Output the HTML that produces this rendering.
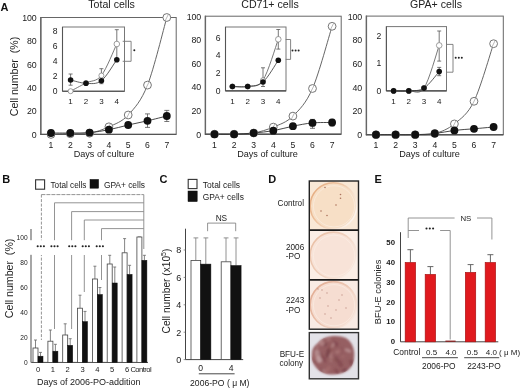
<!DOCTYPE html>
<html><head><meta charset="utf-8"><style>
html,body{margin:0;padding:0;background:#fff;}
body{width:520px;height:388px;overflow:hidden;position:relative;font-family:"Liberation Sans", sans-serif;}
svg{position:absolute;left:0;top:0;filter:blur(0.35px);}
text{font-family:"Liberation Sans", sans-serif;}
</style></head><body>
<svg width="520" height="388" viewBox="0 0 520 388">
<rect width="520" height="388" fill="#fff"/>
<text x="0.5" y="10.8" font-size="11" text-anchor="start" font-weight="bold" fill="#111" >A</text>
<text x="111.6" y="8.2" font-size="10.6" text-anchor="middle" font-weight="normal" fill="#222" >Total cells</text>
<rect x="40.8" y="17.5" width="135.4" height="116.9" fill="none" stroke="#666" stroke-width="1" />
<line x1="40.8" y1="17.0" x2="40.8" y2="134.9" stroke="#666" stroke-width="1.4" />
<line x1="40.3" y1="134.4" x2="176.2" y2="134.4" stroke="#555" stroke-width="1.4" />
<text x="36.5" y="137.8" font-size="8.8" text-anchor="end" font-weight="normal" fill="#1a1a1a" letter-spacing="-0.15">0</text>
<text x="36.5" y="114.4" font-size="8.8" text-anchor="end" font-weight="normal" fill="#1a1a1a" letter-spacing="-0.15">20</text>
<text x="36.5" y="91.0" font-size="8.8" text-anchor="end" font-weight="normal" fill="#1a1a1a" letter-spacing="-0.15">40</text>
<text x="36.5" y="67.7" font-size="8.8" text-anchor="end" font-weight="normal" fill="#1a1a1a" letter-spacing="-0.15">60</text>
<text x="36.5" y="44.3" font-size="8.8" text-anchor="end" font-weight="normal" fill="#1a1a1a" letter-spacing="-0.15">80</text>
<text x="36.5" y="20.9" font-size="8.8" text-anchor="end" font-weight="normal" fill="#1a1a1a" letter-spacing="-0.15">100</text>
<text x="51.0" y="148.2" font-size="8.6" text-anchor="middle" font-weight="normal" fill="#1a1a1a" >1</text>
<text x="70.3" y="148.2" font-size="8.6" text-anchor="middle" font-weight="normal" fill="#1a1a1a" >2</text>
<text x="89.6" y="148.2" font-size="8.6" text-anchor="middle" font-weight="normal" fill="#1a1a1a" >3</text>
<text x="108.9" y="148.2" font-size="8.6" text-anchor="middle" font-weight="normal" fill="#1a1a1a" >4</text>
<text x="128.2" y="148.2" font-size="8.6" text-anchor="middle" font-weight="normal" fill="#1a1a1a" >5</text>
<text x="147.5" y="148.2" font-size="8.6" text-anchor="middle" font-weight="normal" fill="#1a1a1a" >6</text>
<text x="166.8" y="148.2" font-size="8.6" text-anchor="middle" font-weight="normal" fill="#1a1a1a" >7</text>
<text x="104.0" y="156.5" font-size="9.1" text-anchor="middle" font-weight="normal" fill="#1a1a1a" >Days of culture</text>
<text transform="translate(17.7,76.5) rotate(-90)" font-size="10.6" text-anchor="middle" fill="#222">Cell number&#160;&#160;(%)</text>
<path d="M51.0,134.4 C54.2,134.3 63.9,134.0 70.3,133.8 C76.7,133.6 83.2,134.4 89.6,133.2 C96.0,132.1 102.5,129.8 108.9,126.8 C115.3,123.8 121.8,122.0 128.2,115.0 C134.6,108.0 141.1,101.3 147.5,85.1 C153.9,68.8 163.6,28.8 166.8,17.5" fill="none" stroke="#555" stroke-width="0.9"/>
<path d="M51.0,133.0 C54.2,133.0 63.9,133.1 70.3,133.0 C76.7,132.9 83.2,133.2 89.6,132.6 C96.0,132.1 102.5,131.0 108.9,129.7 C115.3,128.5 121.8,126.5 128.2,125.0 C134.6,123.6 141.1,122.3 147.5,120.8 C153.9,119.3 163.6,116.8 166.8,116.0" fill="none" stroke="#333" stroke-width="0.9"/>
<line x1="147.5" y1="113.9" x2="147.5" y2="127.4" stroke="#555" stroke-width="0.8" />
<line x1="145.0" y1="113.9" x2="150.0" y2="113.9" stroke="#555" stroke-width="0.8" />
<line x1="145.0" y1="127.4" x2="150.0" y2="127.4" stroke="#555" stroke-width="0.8" />
<line x1="166.8" y1="110.4" x2="166.8" y2="121.5" stroke="#555" stroke-width="0.8" />
<line x1="164.3" y1="110.4" x2="169.3" y2="110.4" stroke="#555" stroke-width="0.8" />
<line x1="164.3" y1="121.5" x2="169.3" y2="121.5" stroke="#555" stroke-width="0.8" />
<circle cx="51.0" cy="134.4" r="3.9" fill="#fff" stroke="#666" stroke-width="0.9"/>
<line x1="52.5" y1="131.4" x2="49.5" y2="137.4" stroke="#888" stroke-width="0.6" />
<circle cx="70.3" cy="133.8" r="3.9" fill="#fff" stroke="#666" stroke-width="0.9"/>
<line x1="71.8" y1="130.8" x2="68.8" y2="136.8" stroke="#888" stroke-width="0.6" />
<circle cx="89.6" cy="133.2" r="3.9" fill="#fff" stroke="#666" stroke-width="0.9"/>
<line x1="91.1" y1="130.2" x2="88.1" y2="136.2" stroke="#888" stroke-width="0.6" />
<circle cx="108.9" cy="126.8" r="3.9" fill="#fff" stroke="#666" stroke-width="0.9"/>
<line x1="110.4" y1="123.8" x2="107.4" y2="129.8" stroke="#888" stroke-width="0.6" />
<circle cx="128.2" cy="115.0" r="3.9" fill="#fff" stroke="#666" stroke-width="0.9"/>
<line x1="129.7" y1="112.0" x2="126.7" y2="118.0" stroke="#888" stroke-width="0.6" />
<circle cx="147.5" cy="85.1" r="3.9" fill="#fff" stroke="#666" stroke-width="0.9"/>
<line x1="149.0" y1="82.1" x2="146.0" y2="88.1" stroke="#888" stroke-width="0.6" />
<circle cx="166.8" cy="17.5" r="3.9" fill="#fff" stroke="#666" stroke-width="0.9"/>
<line x1="168.3" y1="14.5" x2="165.3" y2="20.5" stroke="#888" stroke-width="0.6" />
<circle cx="51.0" cy="133.0" r="3.9" fill="#111" stroke="none" stroke-width="1"/>
<circle cx="70.3" cy="133.0" r="3.9" fill="#111" stroke="none" stroke-width="1"/>
<circle cx="89.6" cy="132.6" r="3.9" fill="#111" stroke="none" stroke-width="1"/>
<circle cx="108.9" cy="129.7" r="3.9" fill="#111" stroke="none" stroke-width="1"/>
<circle cx="128.2" cy="125.0" r="3.9" fill="#111" stroke="none" stroke-width="1"/>
<circle cx="147.5" cy="120.8" r="3.9" fill="#111" stroke="none" stroke-width="1"/>
<circle cx="166.8" cy="116.0" r="3.9" fill="#111" stroke="none" stroke-width="1"/>
<rect x="62.5" y="27.0" width="62.0" height="64.2" fill="#fff" stroke="#777" stroke-width="1" />
<line x1="62.5" y1="27.0" x2="62.5" y2="91.2" stroke="#555" stroke-width="1.1" />
<line x1="62.5" y1="91.2" x2="124.5" y2="91.2" stroke="#444" stroke-width="1.1" />
<text x="57.5" y="94.2" font-size="8.6" text-anchor="end" font-weight="normal" fill="#1a1a1a" >0</text>
<text x="57.5" y="79.2" font-size="8.6" text-anchor="end" font-weight="normal" fill="#1a1a1a" >2</text>
<text x="57.5" y="64.2" font-size="8.6" text-anchor="end" font-weight="normal" fill="#1a1a1a" >4</text>
<text x="57.5" y="49.2" font-size="8.6" text-anchor="end" font-weight="normal" fill="#1a1a1a" >6</text>
<text x="57.5" y="34.2" font-size="8.6" text-anchor="end" font-weight="normal" fill="#1a1a1a" >8</text>
<text x="70.6" y="103.8" font-size="8.0" text-anchor="middle" font-weight="normal" fill="#1a1a1a" >1</text>
<text x="86.0" y="103.8" font-size="8.0" text-anchor="middle" font-weight="normal" fill="#1a1a1a" >2</text>
<text x="101.4" y="103.8" font-size="8.0" text-anchor="middle" font-weight="normal" fill="#1a1a1a" >3</text>
<text x="116.8" y="103.8" font-size="8.0" text-anchor="middle" font-weight="normal" fill="#1a1a1a" >4</text>
<path d="M70.6,91.2 C73.2,89.8 80.9,85.6 86.0,83.0 C91.1,80.3 96.3,82.0 101.4,75.5 C106.5,69.0 114.2,49.2 116.8,44.0" fill="none" stroke="#555" stroke-width="0.8"/>
<path d="M70.6,80.0 C73.2,80.5 80.9,83.2 86.0,83.3 C91.1,83.5 96.3,84.6 101.4,80.7 C106.5,76.8 114.2,63.2 116.8,59.7" fill="none" stroke="#333" stroke-width="0.8"/>
<line x1="70.6" y1="74.0" x2="70.6" y2="85.2" stroke="#555" stroke-width="0.8" />
<line x1="68.6" y1="74.0" x2="72.6" y2="74.0" stroke="#555" stroke-width="0.8" />
<line x1="68.6" y1="85.2" x2="72.6" y2="85.2" stroke="#555" stroke-width="0.8" />
<line x1="101.4" y1="68.7" x2="101.4" y2="83.7" stroke="#555" stroke-width="0.8" />
<line x1="99.4" y1="68.7" x2="103.4" y2="68.7" stroke="#555" stroke-width="0.8" />
<line x1="99.4" y1="83.7" x2="103.4" y2="83.7" stroke="#555" stroke-width="0.8" />
<line x1="116.8" y1="29.7" x2="116.8" y2="59.7" stroke="#555" stroke-width="0.8" />
<line x1="114.8" y1="29.7" x2="118.8" y2="29.7" stroke="#555" stroke-width="0.8" />
<line x1="114.8" y1="59.7" x2="118.8" y2="59.7" stroke="#555" stroke-width="0.8" />
<circle cx="70.6" cy="91.2" r="2.5" fill="#fff" stroke="#777" stroke-width="0.7"/>
<circle cx="86.0" cy="83.0" r="2.5" fill="#fff" stroke="#777" stroke-width="0.7"/>
<circle cx="101.4" cy="75.5" r="2.5" fill="#fff" stroke="#777" stroke-width="0.7"/>
<circle cx="116.8" cy="44.0" r="2.8" fill="#fff" stroke="#777" stroke-width="0.7"/>
<circle cx="70.6" cy="80.0" r="2.8" fill="#111" stroke="none" stroke-width="1"/>
<circle cx="86.0" cy="83.3" r="2.8" fill="#111" stroke="none" stroke-width="1"/>
<circle cx="101.4" cy="80.7" r="2.8" fill="#111" stroke="none" stroke-width="1"/>
<circle cx="116.8" cy="59.7" r="2.8" fill="#111" stroke="none" stroke-width="1"/>
<polyline points="122.7,41.3 131.1,41.3 131.1,61.3 122.7,61.3" fill="none" stroke="#777" stroke-width="0.9"/>
<circle cx="134.3" cy="50.2" r="1.0" fill="#222" stroke="none" stroke-width="1"/>
<text x="270.0" y="8.2" font-size="10.6" text-anchor="middle" font-weight="normal" fill="#222" >CD71+ cells</text>
<rect x="205.4" y="16.2" width="135.8" height="118.0" fill="none" stroke="#666" stroke-width="1" />
<line x1="205.4" y1="15.7" x2="205.4" y2="134.7" stroke="#666" stroke-width="1.4" />
<line x1="204.9" y1="134.2" x2="341.2" y2="134.2" stroke="#555" stroke-width="1.4" />
<text x="201.1" y="137.6" font-size="8.8" text-anchor="end" font-weight="normal" fill="#1a1a1a" letter-spacing="-0.15">0</text>
<text x="201.1" y="114.0" font-size="8.8" text-anchor="end" font-weight="normal" fill="#1a1a1a" letter-spacing="-0.15">20</text>
<text x="201.1" y="90.4" font-size="8.8" text-anchor="end" font-weight="normal" fill="#1a1a1a" letter-spacing="-0.15">40</text>
<text x="201.1" y="66.8" font-size="8.8" text-anchor="end" font-weight="normal" fill="#1a1a1a" letter-spacing="-0.15">60</text>
<text x="201.1" y="43.2" font-size="8.8" text-anchor="end" font-weight="normal" fill="#1a1a1a" letter-spacing="-0.15">80</text>
<text x="201.1" y="19.6" font-size="8.8" text-anchor="end" font-weight="normal" fill="#1a1a1a" letter-spacing="-0.15">100</text>
<text x="214.5" y="148.2" font-size="8.6" text-anchor="middle" font-weight="normal" fill="#1a1a1a" >1</text>
<text x="234.1" y="148.2" font-size="8.6" text-anchor="middle" font-weight="normal" fill="#1a1a1a" >2</text>
<text x="253.7" y="148.2" font-size="8.6" text-anchor="middle" font-weight="normal" fill="#1a1a1a" >3</text>
<text x="273.3" y="148.2" font-size="8.6" text-anchor="middle" font-weight="normal" fill="#1a1a1a" >4</text>
<text x="292.9" y="148.2" font-size="8.6" text-anchor="middle" font-weight="normal" fill="#1a1a1a" >5</text>
<text x="312.5" y="148.2" font-size="8.6" text-anchor="middle" font-weight="normal" fill="#1a1a1a" >6</text>
<text x="332.1" y="148.2" font-size="8.6" text-anchor="middle" font-weight="normal" fill="#1a1a1a" >7</text>
<text x="267.5" y="156.5" font-size="9.1" text-anchor="middle" font-weight="normal" fill="#1a1a1a" >Days of culture</text>
<path d="M214.5,134.2 C217.8,134.2 227.6,134.4 234.1,134.2 C240.6,134.0 247.2,134.2 253.7,133.0 C260.2,131.8 266.8,129.9 273.3,127.1 C279.8,124.3 286.4,122.6 292.9,116.1 C299.4,109.7 306.0,103.5 312.5,88.5 C319.0,73.6 328.8,36.7 332.1,26.3" fill="none" stroke="#555" stroke-width="0.9"/>
<path d="M214.5,134.2 C217.8,134.2 227.6,134.4 234.1,134.2 C240.6,134.0 247.2,133.6 253.7,133.0 C260.2,132.4 266.8,131.8 273.3,130.7 C279.8,129.5 286.4,127.5 292.9,126.2 C299.4,124.9 306.0,123.5 312.5,122.9 C319.0,122.3 328.8,122.6 332.1,122.5" fill="none" stroke="#333" stroke-width="0.9"/>
<line x1="312.5" y1="119.4" x2="312.5" y2="128.3" stroke="#555" stroke-width="0.8" />
<line x1="310.0" y1="119.4" x2="315.0" y2="119.4" stroke="#555" stroke-width="0.8" />
<line x1="310.0" y1="128.3" x2="315.0" y2="128.3" stroke="#555" stroke-width="0.8" />
<line x1="332.1" y1="119.4" x2="332.1" y2="125.9" stroke="#555" stroke-width="0.8" />
<line x1="329.6" y1="119.4" x2="334.6" y2="119.4" stroke="#555" stroke-width="0.8" />
<line x1="329.6" y1="125.9" x2="334.6" y2="125.9" stroke="#555" stroke-width="0.8" />
<circle cx="214.5" cy="134.2" r="3.9" fill="#fff" stroke="#666" stroke-width="0.9"/>
<line x1="216.0" y1="131.2" x2="213.0" y2="137.2" stroke="#888" stroke-width="0.6" />
<circle cx="234.1" cy="134.2" r="3.9" fill="#fff" stroke="#666" stroke-width="0.9"/>
<line x1="235.6" y1="131.2" x2="232.6" y2="137.2" stroke="#888" stroke-width="0.6" />
<circle cx="253.7" cy="133.0" r="3.9" fill="#fff" stroke="#666" stroke-width="0.9"/>
<line x1="255.2" y1="130.0" x2="252.2" y2="136.0" stroke="#888" stroke-width="0.6" />
<circle cx="273.3" cy="127.1" r="3.9" fill="#fff" stroke="#666" stroke-width="0.9"/>
<line x1="274.8" y1="124.1" x2="271.8" y2="130.1" stroke="#888" stroke-width="0.6" />
<circle cx="292.9" cy="116.1" r="3.9" fill="#fff" stroke="#666" stroke-width="0.9"/>
<line x1="294.4" y1="113.1" x2="291.4" y2="119.1" stroke="#888" stroke-width="0.6" />
<circle cx="312.5" cy="88.5" r="3.9" fill="#fff" stroke="#666" stroke-width="0.9"/>
<line x1="314.0" y1="85.5" x2="311.0" y2="91.5" stroke="#888" stroke-width="0.6" />
<circle cx="332.1" cy="26.3" r="3.9" fill="#fff" stroke="#666" stroke-width="0.9"/>
<line x1="333.6" y1="23.3" x2="330.6" y2="29.3" stroke="#888" stroke-width="0.6" />
<circle cx="214.5" cy="134.2" r="3.9" fill="#111" stroke="none" stroke-width="1"/>
<circle cx="234.1" cy="134.2" r="3.9" fill="#111" stroke="none" stroke-width="1"/>
<circle cx="253.7" cy="133.0" r="3.9" fill="#111" stroke="none" stroke-width="1"/>
<circle cx="273.3" cy="130.7" r="3.9" fill="#111" stroke="none" stroke-width="1"/>
<circle cx="292.9" cy="126.2" r="3.9" fill="#111" stroke="none" stroke-width="1"/>
<circle cx="312.5" cy="122.9" r="3.9" fill="#111" stroke="none" stroke-width="1"/>
<circle cx="332.1" cy="122.5" r="3.9" fill="#111" stroke="none" stroke-width="1"/>
<rect x="225.5" y="27.0" width="60.5" height="63.9" fill="#fff" stroke="#777" stroke-width="1" />
<line x1="225.5" y1="27.0" x2="225.5" y2="90.9" stroke="#555" stroke-width="1.1" />
<line x1="225.5" y1="90.9" x2="286.0" y2="90.9" stroke="#444" stroke-width="1.1" />
<text x="220.5" y="93.9" font-size="8.6" text-anchor="end" font-weight="normal" fill="#1a1a1a" >0</text>
<text x="220.5" y="76.1" font-size="8.6" text-anchor="end" font-weight="normal" fill="#1a1a1a" >2</text>
<text x="220.5" y="58.3" font-size="8.6" text-anchor="end" font-weight="normal" fill="#1a1a1a" >4</text>
<text x="220.5" y="40.5" font-size="8.6" text-anchor="end" font-weight="normal" fill="#1a1a1a" >6</text>
<text x="232.4" y="103.8" font-size="8.0" text-anchor="middle" font-weight="normal" fill="#1a1a1a" >1</text>
<text x="247.7" y="103.8" font-size="8.0" text-anchor="middle" font-weight="normal" fill="#1a1a1a" >2</text>
<text x="263.0" y="103.8" font-size="8.0" text-anchor="middle" font-weight="normal" fill="#1a1a1a" >3</text>
<text x="278.3" y="103.8" font-size="8.0" text-anchor="middle" font-weight="normal" fill="#1a1a1a" >4</text>
<path d="M232.4,86.5 C235.0,86.5 242.6,87.5 247.7,86.5 C252.8,85.4 257.9,88.1 263.0,80.2 C268.1,72.4 275.8,46.1 278.3,39.3" fill="none" stroke="#555" stroke-width="0.8"/>
<path d="M232.4,86.5 C235.0,86.5 242.6,87.2 247.7,86.5 C252.8,85.7 257.9,86.4 263.0,82.0 C268.1,77.6 275.8,63.8 278.3,60.2" fill="none" stroke="#333" stroke-width="0.8"/>
<line x1="263.0" y1="67.8" x2="263.0" y2="86.5" stroke="#555" stroke-width="0.8" />
<line x1="261.0" y1="67.8" x2="265.0" y2="67.8" stroke="#555" stroke-width="0.8" />
<line x1="261.0" y1="86.5" x2="265.0" y2="86.5" stroke="#555" stroke-width="0.8" />
<line x1="278.3" y1="29.5" x2="278.3" y2="49.1" stroke="#555" stroke-width="0.8" />
<line x1="276.3" y1="29.5" x2="280.3" y2="29.5" stroke="#555" stroke-width="0.8" />
<line x1="276.3" y1="49.1" x2="280.3" y2="49.1" stroke="#555" stroke-width="0.8" />
<circle cx="232.4" cy="86.5" r="2.5" fill="#fff" stroke="#777" stroke-width="0.7"/>
<circle cx="247.7" cy="86.5" r="2.5" fill="#fff" stroke="#777" stroke-width="0.7"/>
<circle cx="263.0" cy="80.2" r="2.5" fill="#fff" stroke="#777" stroke-width="0.7"/>
<circle cx="278.3" cy="39.3" r="2.8" fill="#fff" stroke="#777" stroke-width="0.7"/>
<circle cx="232.4" cy="86.5" r="2.8" fill="#111" stroke="none" stroke-width="1"/>
<circle cx="247.7" cy="86.5" r="2.8" fill="#111" stroke="none" stroke-width="1"/>
<circle cx="263.0" cy="82.0" r="2.8" fill="#111" stroke="none" stroke-width="1"/>
<circle cx="278.3" cy="60.2" r="2.8" fill="#111" stroke="none" stroke-width="1"/>
<polyline points="285.7,39.5 290.6,39.5 290.6,59.4 285.7,59.4" fill="none" stroke="#777" stroke-width="0.9"/>
<circle cx="292.5" cy="50.6" r="1.0" fill="#222" stroke="none" stroke-width="1"/>
<circle cx="295.6" cy="50.6" r="1.0" fill="#222" stroke="none" stroke-width="1"/>
<circle cx="298.6" cy="50.6" r="1.0" fill="#222" stroke="none" stroke-width="1"/>
<text x="436.0" y="8.2" font-size="10.6" text-anchor="middle" font-weight="normal" fill="#222" >GPA+ cells</text>
<rect x="366.4" y="16.1" width="136.9" height="118.6" fill="none" stroke="#666" stroke-width="1" />
<line x1="366.4" y1="15.6" x2="366.4" y2="135.2" stroke="#666" stroke-width="1.4" />
<line x1="365.9" y1="134.7" x2="503.3" y2="134.7" stroke="#555" stroke-width="1.4" />
<text x="362.1" y="138.1" font-size="8.8" text-anchor="end" font-weight="normal" fill="#1a1a1a" letter-spacing="-0.15">0</text>
<text x="362.1" y="114.4" font-size="8.8" text-anchor="end" font-weight="normal" fill="#1a1a1a" letter-spacing="-0.15">20</text>
<text x="362.1" y="90.7" font-size="8.8" text-anchor="end" font-weight="normal" fill="#1a1a1a" letter-spacing="-0.15">40</text>
<text x="362.1" y="66.9" font-size="8.8" text-anchor="end" font-weight="normal" fill="#1a1a1a" letter-spacing="-0.15">60</text>
<text x="362.1" y="43.2" font-size="8.8" text-anchor="end" font-weight="normal" fill="#1a1a1a" letter-spacing="-0.15">80</text>
<text x="362.1" y="19.5" font-size="8.8" text-anchor="end" font-weight="normal" fill="#1a1a1a" letter-spacing="-0.15">100</text>
<text x="376.0" y="148.2" font-size="8.6" text-anchor="middle" font-weight="normal" fill="#1a1a1a" >1</text>
<text x="395.6" y="148.2" font-size="8.6" text-anchor="middle" font-weight="normal" fill="#1a1a1a" >2</text>
<text x="415.2" y="148.2" font-size="8.6" text-anchor="middle" font-weight="normal" fill="#1a1a1a" >3</text>
<text x="434.8" y="148.2" font-size="8.6" text-anchor="middle" font-weight="normal" fill="#1a1a1a" >4</text>
<text x="454.4" y="148.2" font-size="8.6" text-anchor="middle" font-weight="normal" fill="#1a1a1a" >5</text>
<text x="474.0" y="148.2" font-size="8.6" text-anchor="middle" font-weight="normal" fill="#1a1a1a" >6</text>
<text x="493.6" y="148.2" font-size="8.6" text-anchor="middle" font-weight="normal" fill="#1a1a1a" >7</text>
<text x="429.5" y="156.5" font-size="9.1" text-anchor="middle" font-weight="normal" fill="#1a1a1a" >Days of culture</text>
<path d="M376.0,134.7 C379.3,134.7 389.1,134.7 395.6,134.7 C402.1,134.7 408.7,134.9 415.2,134.7 C421.7,134.5 428.3,135.3 434.8,133.5 C441.3,131.7 447.9,129.3 454.4,123.9 C460.9,118.5 467.5,114.6 474.0,101.3 C480.5,87.9 490.3,53.3 493.6,43.7" fill="none" stroke="#555" stroke-width="0.9"/>
<path d="M376.0,134.7 C379.3,134.7 389.1,134.7 395.6,134.7 C402.1,134.7 408.7,134.9 415.2,134.7 C421.7,134.5 428.3,134.2 434.8,133.5 C441.3,132.8 447.9,131.2 454.4,130.4 C460.9,129.6 467.5,129.3 474.0,128.8 C480.5,128.2 490.3,127.3 493.6,127.0" fill="none" stroke="#333" stroke-width="0.9"/>
<circle cx="376.0" cy="134.7" r="3.9" fill="#fff" stroke="#666" stroke-width="0.9"/>
<line x1="377.5" y1="131.7" x2="374.5" y2="137.7" stroke="#888" stroke-width="0.6" />
<circle cx="395.6" cy="134.7" r="3.9" fill="#fff" stroke="#666" stroke-width="0.9"/>
<line x1="397.1" y1="131.7" x2="394.1" y2="137.7" stroke="#888" stroke-width="0.6" />
<circle cx="415.2" cy="134.7" r="3.9" fill="#fff" stroke="#666" stroke-width="0.9"/>
<line x1="416.7" y1="131.7" x2="413.7" y2="137.7" stroke="#888" stroke-width="0.6" />
<circle cx="434.8" cy="133.5" r="3.9" fill="#fff" stroke="#666" stroke-width="0.9"/>
<line x1="436.3" y1="130.5" x2="433.3" y2="136.5" stroke="#888" stroke-width="0.6" />
<circle cx="454.4" cy="123.9" r="3.9" fill="#fff" stroke="#666" stroke-width="0.9"/>
<line x1="455.9" y1="120.9" x2="452.9" y2="126.9" stroke="#888" stroke-width="0.6" />
<circle cx="474.0" cy="101.3" r="3.9" fill="#fff" stroke="#666" stroke-width="0.9"/>
<line x1="475.5" y1="98.3" x2="472.5" y2="104.3" stroke="#888" stroke-width="0.6" />
<circle cx="493.6" cy="43.7" r="3.9" fill="#fff" stroke="#666" stroke-width="0.9"/>
<line x1="495.1" y1="40.7" x2="492.1" y2="46.7" stroke="#888" stroke-width="0.6" />
<circle cx="376.0" cy="134.7" r="3.9" fill="#111" stroke="none" stroke-width="1"/>
<circle cx="395.6" cy="134.7" r="3.9" fill="#111" stroke="none" stroke-width="1"/>
<circle cx="415.2" cy="134.7" r="3.9" fill="#111" stroke="none" stroke-width="1"/>
<circle cx="434.8" cy="133.5" r="3.9" fill="#111" stroke="none" stroke-width="1"/>
<circle cx="454.4" cy="130.4" r="3.9" fill="#111" stroke="none" stroke-width="1"/>
<circle cx="474.0" cy="128.8" r="3.9" fill="#111" stroke="none" stroke-width="1"/>
<circle cx="493.6" cy="127.0" r="3.9" fill="#111" stroke="none" stroke-width="1"/>
<rect x="386.4" y="26.6" width="60.1" height="64.3" fill="#fff" stroke="#777" stroke-width="1" />
<line x1="386.4" y1="26.6" x2="386.4" y2="90.9" stroke="#555" stroke-width="1.1" />
<line x1="386.4" y1="90.9" x2="446.5" y2="90.9" stroke="#444" stroke-width="1.1" />
<text x="381.4" y="93.9" font-size="8.6" text-anchor="end" font-weight="normal" fill="#1a1a1a" >0</text>
<text x="381.4" y="66.3" font-size="8.6" text-anchor="end" font-weight="normal" fill="#1a1a1a" >1</text>
<text x="381.4" y="38.7" font-size="8.6" text-anchor="end" font-weight="normal" fill="#1a1a1a" >2</text>
<text x="393.6" y="103.8" font-size="8.0" text-anchor="middle" font-weight="normal" fill="#1a1a1a" >1</text>
<text x="408.8" y="103.8" font-size="8.0" text-anchor="middle" font-weight="normal" fill="#1a1a1a" >2</text>
<text x="424.0" y="103.8" font-size="8.0" text-anchor="middle" font-weight="normal" fill="#1a1a1a" >3</text>
<text x="439.2" y="103.8" font-size="8.0" text-anchor="middle" font-weight="normal" fill="#1a1a1a" >4</text>
<path d="M393.6,90.9 C396.1,90.9 403.7,91.4 408.8,90.9 C413.9,90.4 418.9,95.7 424.0,88.1 C429.1,80.5 436.7,52.5 439.2,45.4" fill="none" stroke="#555" stroke-width="0.8"/>
<path d="M393.6,90.9 C396.1,90.9 403.7,91.4 408.8,90.9 C413.9,90.4 418.9,91.4 424.0,88.1 C429.1,84.9 436.7,74.3 439.2,71.6" fill="none" stroke="#333" stroke-width="0.8"/>
<line x1="439.2" y1="31.0" x2="439.2" y2="61.1" stroke="#555" stroke-width="0.8" />
<line x1="437.2" y1="31.0" x2="441.2" y2="31.0" stroke="#555" stroke-width="0.8" />
<line x1="437.2" y1="61.1" x2="441.2" y2="61.1" stroke="#555" stroke-width="0.8" />
<line x1="439.2" y1="67.4" x2="439.2" y2="75.7" stroke="#555" stroke-width="0.8" />
<line x1="437.2" y1="67.4" x2="441.2" y2="67.4" stroke="#555" stroke-width="0.8" />
<line x1="437.2" y1="75.7" x2="441.2" y2="75.7" stroke="#555" stroke-width="0.8" />
<circle cx="393.6" cy="90.9" r="2.5" fill="#fff" stroke="#777" stroke-width="0.7"/>
<circle cx="408.8" cy="90.9" r="2.5" fill="#fff" stroke="#777" stroke-width="0.7"/>
<circle cx="424.0" cy="88.1" r="2.5" fill="#fff" stroke="#777" stroke-width="0.7"/>
<circle cx="439.2" cy="45.4" r="2.8" fill="#fff" stroke="#777" stroke-width="0.7"/>
<circle cx="393.6" cy="90.9" r="2.8" fill="#111" stroke="none" stroke-width="1"/>
<circle cx="408.8" cy="90.9" r="2.8" fill="#111" stroke="none" stroke-width="1"/>
<circle cx="424.0" cy="88.1" r="2.8" fill="#111" stroke="none" stroke-width="1"/>
<circle cx="439.2" cy="71.6" r="2.8" fill="#111" stroke="none" stroke-width="1"/>
<polyline points="446.6,44.4 453.0,44.4 453.0,72.2 446.6,72.2" fill="none" stroke="#777" stroke-width="0.9"/>
<circle cx="455.7" cy="57.8" r="1.0" fill="#222" stroke="none" stroke-width="1"/>
<circle cx="458.8" cy="57.8" r="1.0" fill="#222" stroke="none" stroke-width="1"/>
<circle cx="461.8" cy="57.8" r="1.0" fill="#222" stroke="none" stroke-width="1"/>
<text x="2.2" y="183.3" font-size="11" text-anchor="start" font-weight="bold" fill="#111" >B</text>
<rect x="35.6" y="179.8" width="9.0" height="9.4" fill="#fff" stroke="#333" stroke-width="1.1" />
<text x="50.5" y="187.6" font-size="8.2" text-anchor="start" font-weight="normal" fill="#1a1a1a" >Total cells</text>
<rect x="90.0" y="179.4" width="8.6" height="8.8" fill="#111" stroke="#111" stroke-width="0.5" />
<text x="103.9" y="187.6" font-size="8.4" text-anchor="start" font-weight="normal" fill="#1a1a1a" >GPA+ cells</text>
<line x1="41.4" y1="194.6" x2="143.8" y2="194.6" stroke="#888" stroke-width="0.9" stroke-dasharray="4,1"/>
<line x1="41.4" y1="194.6" x2="41.4" y2="340.0" stroke="#888" stroke-width="0.9" stroke-dasharray="3,1.5"/>
<line x1="54.5" y1="202.8" x2="143.8" y2="202.8" stroke="#888" stroke-width="0.9" />
<line x1="54.5" y1="202.8" x2="54.5" y2="329.0" stroke="#888" stroke-width="0.9" />
<line x1="71.6" y1="211.6" x2="143.8" y2="211.6" stroke="#888" stroke-width="0.9" />
<line x1="71.6" y1="211.6" x2="71.6" y2="329.0" stroke="#888" stroke-width="0.9" />
<line x1="84.3" y1="220.0" x2="143.8" y2="220.0" stroke="#888" stroke-width="0.9" />
<line x1="84.3" y1="220.0" x2="84.3" y2="292.0" stroke="#888" stroke-width="0.9" />
<line x1="101.5" y1="228.6" x2="143.8" y2="228.6" stroke="#888" stroke-width="0.9" />
<line x1="101.5" y1="228.6" x2="101.5" y2="280.0" stroke="#888" stroke-width="0.9" />
<line x1="143.8" y1="194.6" x2="143.8" y2="249.0" stroke="#888" stroke-width="0.9" />
<line x1="31.0" y1="229.0" x2="31.0" y2="362.4" stroke="#777" stroke-width="1.3" />
<line x1="31.2" y1="362.4" x2="148.0" y2="362.4" stroke="#444" stroke-width="1" />
<text x="27.6" y="364.8" font-size="6.6" text-anchor="end" font-weight="normal" fill="#1a1a1a" >0</text>
<text x="27.6" y="339.9" font-size="6.6" text-anchor="end" font-weight="normal" fill="#1a1a1a" >20</text>
<text x="27.6" y="315.0" font-size="6.6" text-anchor="end" font-weight="normal" fill="#1a1a1a" >40</text>
<text x="27.6" y="290.1" font-size="6.6" text-anchor="end" font-weight="normal" fill="#1a1a1a" >60</text>
<text x="27.6" y="265.2" font-size="6.6" text-anchor="end" font-weight="normal" fill="#1a1a1a" >80</text>
<text x="27.6" y="240.3" font-size="6.6" text-anchor="end" font-weight="normal" fill="#1a1a1a" >100</text>
<line x1="35.5" y1="340.0" x2="35.5" y2="348.0" stroke="#666" stroke-width="0.8" />
<line x1="34.0" y1="340.0" x2="37.0" y2="340.0" stroke="#666" stroke-width="0.8" />
<line x1="40.5" y1="352.4" x2="40.5" y2="356.2" stroke="#666" stroke-width="0.8" />
<line x1="39.0" y1="352.4" x2="42.0" y2="352.4" stroke="#666" stroke-width="0.8" />
<rect x="33.0" y="348.0" width="5.0" height="14.4" fill="#fff" stroke="#444" stroke-width="0.8" />
<rect x="38.0" y="356.2" width="5.0" height="6.2" fill="#111" stroke="#111" stroke-width="0.5" />
<text x="38.0" y="372.4" font-size="7.6" text-anchor="middle" font-weight="normal" fill="#1a1a1a" >0</text>
<line x1="50.4" y1="330.0" x2="50.4" y2="341.2" stroke="#666" stroke-width="0.8" />
<line x1="48.9" y1="330.0" x2="51.9" y2="330.0" stroke="#666" stroke-width="0.8" />
<line x1="55.4" y1="344.3" x2="55.4" y2="351.2" stroke="#666" stroke-width="0.8" />
<line x1="53.9" y1="344.3" x2="56.9" y2="344.3" stroke="#666" stroke-width="0.8" />
<rect x="47.9" y="341.2" width="5.0" height="21.2" fill="#fff" stroke="#444" stroke-width="0.8" />
<rect x="52.9" y="351.2" width="5.0" height="11.2" fill="#111" stroke="#111" stroke-width="0.5" />
<text x="52.9" y="372.4" font-size="7.6" text-anchor="middle" font-weight="normal" fill="#1a1a1a" >1</text>
<line x1="65.2" y1="323.8" x2="65.2" y2="335.0" stroke="#666" stroke-width="0.8" />
<line x1="63.7" y1="323.8" x2="66.7" y2="323.8" stroke="#666" stroke-width="0.8" />
<line x1="70.2" y1="338.7" x2="70.2" y2="345.3" stroke="#666" stroke-width="0.8" />
<line x1="68.7" y1="338.7" x2="71.7" y2="338.7" stroke="#666" stroke-width="0.8" />
<rect x="62.7" y="335.0" width="5.0" height="27.4" fill="#fff" stroke="#444" stroke-width="0.8" />
<rect x="67.7" y="345.3" width="5.0" height="17.1" fill="#111" stroke="#111" stroke-width="0.5" />
<text x="67.7" y="372.4" font-size="7.6" text-anchor="middle" font-weight="normal" fill="#1a1a1a" >2</text>
<line x1="80.0" y1="295.2" x2="80.0" y2="308.2" stroke="#666" stroke-width="0.8" />
<line x1="78.5" y1="295.2" x2="81.5" y2="295.2" stroke="#666" stroke-width="0.8" />
<line x1="85.0" y1="311.4" x2="85.0" y2="321.6" stroke="#666" stroke-width="0.8" />
<line x1="83.5" y1="311.4" x2="86.5" y2="311.4" stroke="#666" stroke-width="0.8" />
<rect x="77.5" y="308.2" width="5.0" height="54.2" fill="#fff" stroke="#444" stroke-width="0.8" />
<rect x="82.5" y="321.6" width="5.0" height="40.8" fill="#111" stroke="#111" stroke-width="0.5" />
<text x="82.5" y="372.4" font-size="7.6" text-anchor="middle" font-weight="normal" fill="#1a1a1a" >3</text>
<line x1="94.9" y1="266.2" x2="94.9" y2="279.0" stroke="#666" stroke-width="0.8" />
<line x1="93.4" y1="266.2" x2="96.4" y2="266.2" stroke="#666" stroke-width="0.8" />
<line x1="99.9" y1="287.5" x2="99.9" y2="294.5" stroke="#666" stroke-width="0.8" />
<line x1="98.4" y1="287.5" x2="101.4" y2="287.5" stroke="#666" stroke-width="0.8" />
<rect x="92.4" y="279.0" width="5.0" height="83.4" fill="#fff" stroke="#444" stroke-width="0.8" />
<rect x="97.4" y="294.5" width="5.0" height="67.9" fill="#111" stroke="#111" stroke-width="0.5" />
<text x="97.4" y="372.4" font-size="7.6" text-anchor="middle" font-weight="normal" fill="#1a1a1a" >4</text>
<line x1="109.8" y1="255.3" x2="109.8" y2="264.0" stroke="#666" stroke-width="0.8" />
<line x1="108.2" y1="255.3" x2="111.2" y2="255.3" stroke="#666" stroke-width="0.8" />
<line x1="114.8" y1="267.0" x2="114.8" y2="283.0" stroke="#666" stroke-width="0.8" />
<line x1="113.2" y1="267.0" x2="116.2" y2="267.0" stroke="#666" stroke-width="0.8" />
<rect x="107.2" y="264.0" width="5.0" height="98.4" fill="#fff" stroke="#444" stroke-width="0.8" />
<rect x="112.2" y="283.0" width="5.0" height="79.4" fill="#111" stroke="#111" stroke-width="0.5" />
<text x="112.2" y="372.4" font-size="7.6" text-anchor="middle" font-weight="normal" fill="#1a1a1a" >5</text>
<line x1="124.6" y1="238.6" x2="124.6" y2="252.8" stroke="#666" stroke-width="0.8" />
<line x1="123.1" y1="238.6" x2="126.1" y2="238.6" stroke="#666" stroke-width="0.8" />
<line x1="129.6" y1="265.3" x2="129.6" y2="274.4" stroke="#666" stroke-width="0.8" />
<line x1="128.1" y1="265.3" x2="131.1" y2="265.3" stroke="#666" stroke-width="0.8" />
<rect x="122.1" y="252.8" width="5.0" height="109.6" fill="#fff" stroke="#444" stroke-width="0.8" />
<rect x="127.1" y="274.4" width="5.0" height="88.0" fill="#111" stroke="#111" stroke-width="0.5" />
<text x="127.1" y="372.4" font-size="7.6" text-anchor="middle" font-weight="normal" fill="#1a1a1a" >6</text>
<line x1="139.4" y1="237.0" x2="139.4" y2="237.0" stroke="#666" stroke-width="0.8" />
<line x1="137.9" y1="237.0" x2="140.9" y2="237.0" stroke="#666" stroke-width="0.8" />
<line x1="144.4" y1="255.3" x2="144.4" y2="260.3" stroke="#666" stroke-width="0.8" />
<line x1="142.9" y1="255.3" x2="145.9" y2="255.3" stroke="#666" stroke-width="0.8" />
<rect x="136.9" y="237.0" width="5.0" height="125.4" fill="#fff" stroke="#444" stroke-width="0.8" />
<rect x="141.9" y="260.3" width="5.0" height="102.1" fill="#111" stroke="#111" stroke-width="0.5" />
<text x="130.4" y="372.4" font-size="7.6" text-anchor="start" font-weight="normal" fill="#1a1a1a" letter-spacing="-0.55">Control</text>
<rect x="35.8" y="240.2" width="10.0" height="14.8" fill="#fff" stroke="none" stroke-width="1" />
<circle cx="37.7" cy="246.3" r="1.05" fill="#222" stroke="none" stroke-width="1"/>
<circle cx="40.8" cy="246.3" r="1.05" fill="#222" stroke="none" stroke-width="1"/>
<circle cx="43.9" cy="246.3" r="1.05" fill="#222" stroke="none" stroke-width="1"/>
<rect x="49.5" y="240.2" width="10.0" height="14.8" fill="#fff" stroke="none" stroke-width="1" />
<circle cx="51.4" cy="246.3" r="1.05" fill="#222" stroke="none" stroke-width="1"/>
<circle cx="54.5" cy="246.3" r="1.05" fill="#222" stroke="none" stroke-width="1"/>
<circle cx="57.6" cy="246.3" r="1.05" fill="#222" stroke="none" stroke-width="1"/>
<rect x="67.3" y="240.2" width="10.0" height="14.8" fill="#fff" stroke="none" stroke-width="1" />
<circle cx="69.2" cy="246.3" r="1.05" fill="#222" stroke="none" stroke-width="1"/>
<circle cx="72.3" cy="246.3" r="1.05" fill="#222" stroke="none" stroke-width="1"/>
<circle cx="75.4" cy="246.3" r="1.05" fill="#222" stroke="none" stroke-width="1"/>
<rect x="80.8" y="240.2" width="10.0" height="14.8" fill="#fff" stroke="none" stroke-width="1" />
<circle cx="82.7" cy="246.3" r="1.05" fill="#222" stroke="none" stroke-width="1"/>
<circle cx="85.8" cy="246.3" r="1.05" fill="#222" stroke="none" stroke-width="1"/>
<circle cx="88.9" cy="246.3" r="1.05" fill="#222" stroke="none" stroke-width="1"/>
<rect x="94.8" y="240.2" width="10.0" height="14.8" fill="#fff" stroke="none" stroke-width="1" />
<circle cx="96.7" cy="246.3" r="1.05" fill="#222" stroke="none" stroke-width="1"/>
<circle cx="99.8" cy="246.3" r="1.05" fill="#222" stroke="none" stroke-width="1"/>
<circle cx="102.9" cy="246.3" r="1.05" fill="#222" stroke="none" stroke-width="1"/>
<rect x="29.0" y="240.2" width="4.0" height="14.6" fill="#fff" stroke="none" stroke-width="1" />
<text x="88.7" y="385.1" font-size="9.0" text-anchor="middle" font-weight="normal" fill="#1a1a1a" >Days of 2006-PO-addition</text>
<text transform="translate(12.8,278.4) rotate(-90)" font-size="10.6" text-anchor="middle" fill="#222">Cell number&#160;&#160;(%)</text>
<text x="159.4" y="183.3" font-size="11" text-anchor="start" font-weight="bold" fill="#111" >C</text>
<rect x="188.2" y="179.4" width="8.8" height="9.2" fill="#fff" stroke="#333" stroke-width="1.1" />
<text x="202.8" y="187.6" font-size="8.5" text-anchor="start" font-weight="normal" fill="#1a1a1a" >Total cells</text>
<rect x="188.0" y="191.0" width="9.2" height="10.6" fill="#111" stroke="#111" stroke-width="0.5" />
<text x="202.8" y="199.5" font-size="8.4" text-anchor="start" font-weight="normal" fill="#1a1a1a" >GPA+ cells</text>
<line x1="185.5" y1="228.7" x2="185.5" y2="359.6" stroke="#444" stroke-width="1" />
<line x1="185.5" y1="359.6" x2="243.2" y2="359.6" stroke="#444" stroke-width="1" />
<text x="181.3" y="362.9" font-size="9.0" text-anchor="end" font-weight="normal" fill="#1a1a1a" >0</text>
<line x1="183.6" y1="359.6" x2="185.5" y2="359.6" stroke="#666" stroke-width="0.7" />
<text x="181.3" y="335.5" font-size="9.0" text-anchor="end" font-weight="normal" fill="#1a1a1a" >2</text>
<line x1="183.6" y1="332.2" x2="185.5" y2="332.2" stroke="#666" stroke-width="0.7" />
<text x="181.3" y="308.1" font-size="9.0" text-anchor="end" font-weight="normal" fill="#1a1a1a" >4</text>
<line x1="183.6" y1="304.8" x2="185.5" y2="304.8" stroke="#666" stroke-width="0.7" />
<text x="181.3" y="280.7" font-size="9.0" text-anchor="end" font-weight="normal" fill="#1a1a1a" >6</text>
<line x1="183.6" y1="277.4" x2="185.5" y2="277.4" stroke="#666" stroke-width="0.7" />
<text x="181.3" y="253.3" font-size="9.0" text-anchor="end" font-weight="normal" fill="#1a1a1a" >8</text>
<line x1="183.6" y1="250.0" x2="185.5" y2="250.0" stroke="#666" stroke-width="0.7" />
<line x1="195.8" y1="237.9" x2="195.8" y2="260.5" stroke="#777" stroke-width="0.8" />
<line x1="193.5" y1="237.9" x2="198.3" y2="237.9" stroke="#777" stroke-width="0.8" />
<line x1="205.8" y1="237.9" x2="205.8" y2="264.1" stroke="#777" stroke-width="0.8" />
<line x1="203.5" y1="237.9" x2="208.3" y2="237.9" stroke="#777" stroke-width="0.8" />
<rect x="191.0" y="260.5" width="9.7" height="99.1" fill="#fff" stroke="#444" stroke-width="0.8" />
<rect x="200.7" y="264.1" width="10.2" height="95.5" fill="#111" stroke="#111" stroke-width="0.5" />
<line x1="226.0" y1="237.9" x2="226.0" y2="261.8" stroke="#777" stroke-width="0.8" />
<line x1="223.7" y1="237.9" x2="228.5" y2="237.9" stroke="#777" stroke-width="0.8" />
<line x1="236.0" y1="237.9" x2="236.0" y2="265.5" stroke="#777" stroke-width="0.8" />
<line x1="233.7" y1="237.9" x2="238.5" y2="237.9" stroke="#777" stroke-width="0.8" />
<rect x="221.2" y="261.8" width="9.7" height="97.8" fill="#fff" stroke="#444" stroke-width="0.8" />
<rect x="230.9" y="265.5" width="10.2" height="94.1" fill="#111" stroke="#111" stroke-width="0.5" />
<polyline points="207.6,231.2 207.6,223.1 235.7,223.1 235.7,231.2" fill="none" stroke="#777" stroke-width="0.8"/>
<text x="221.4" y="220.7" font-size="8.3" text-anchor="middle" font-weight="normal" fill="#1a1a1a" >NS</text>
<text x="200.6" y="371.0" font-size="8.6" text-anchor="middle" font-weight="normal" fill="#1a1a1a" >0</text>
<text x="231.2" y="371.0" font-size="8.6" text-anchor="middle" font-weight="normal" fill="#1a1a1a" >4</text>
<line x1="198.8" y1="373.8" x2="234.6" y2="373.8" stroke="#333" stroke-width="0.9" />
<text x="219.8" y="385.9" font-size="8.6" text-anchor="middle" font-weight="normal" fill="#1a1a1a" >2006-PO (&#160;&#956;&#160;M)</text>
<text transform="translate(169.5,291) rotate(-90)" font-size="10.2" text-anchor="middle" fill="#222">Cell number (x10<tspan font-size="7" dy="-4">5</tspan><tspan dy="4">)</tspan></text>
<text x="268.3" y="183.2" font-size="11" text-anchor="start" font-weight="bold" fill="#111" >D</text>
<text x="304.0" y="206.0" font-size="8.2" text-anchor="end" font-weight="normal" fill="#1a1a1a" >Control</text>
<text x="304.2" y="249.8" font-size="8.2" text-anchor="end" font-weight="normal" fill="#1a1a1a" >2006</text>
<text x="285.7" y="259.2" font-size="8.2" text-anchor="start" font-weight="normal" fill="#1a1a1a" >-PO</text>
<text x="304.2" y="303.1" font-size="8.2" text-anchor="end" font-weight="normal" fill="#1a1a1a" >2243</text>
<text x="285.7" y="312.8" font-size="8.2" text-anchor="start" font-weight="normal" fill="#1a1a1a" >-PO</text>
<text x="304.2" y="356.5" font-size="8.2" text-anchor="end" font-weight="normal" fill="#1a1a1a" >BFU-E</text>
<text x="303.2" y="366.1" font-size="8.2" text-anchor="end" font-weight="normal" fill="#1a1a1a" >colony</text>
<defs>
<linearGradient id="rim1" x1="0" y1="0" x2="1" y2="0.6">
<stop offset="0" stop-color="#e3a678"/><stop offset="0.45" stop-color="#eec3a0"/><stop offset="1" stop-color="#fbf2ea"/></linearGradient>
<linearGradient id="rim2" x1="0" y1="0" x2="1" y2="0.6">
<stop offset="0" stop-color="#e8bca0"/><stop offset="0.6" stop-color="#f0d2c0"/><stop offset="1" stop-color="#faeee6"/></linearGradient>
<linearGradient id="rim3" x1="0" y1="0" x2="1" y2="0.6">
<stop offset="0" stop-color="#e0a88e"/><stop offset="0.6" stop-color="#ecc6b2"/><stop offset="1" stop-color="#f8e6dc"/></linearGradient>
<radialGradient id="col" cx="45%" cy="45%" r="55%">
<stop offset="0" stop-color="#8c4c58"/><stop offset="0.6" stop-color="#955a66"/><stop offset="0.9" stop-color="#a8767f"/><stop offset="1" stop-color="#c8b0b6"/></radialGradient>
</defs>
<rect x="309.2" y="181.0" width="49.3" height="49.2" fill="#f9e8d6" stroke="none" stroke-width="1" />
<circle cx="333.4" cy="205.9" r="23.2" fill="#f7dfc6" stroke="url(#rim1)" stroke-width="1.6"/>
<circle cx="334.0" cy="206.3" r="20.6" fill="none" stroke="#fbf0e8" stroke-width="0.8" opacity="0.7"/>
<rect x="309.2" y="230.2" width="49.3" height="49.7" fill="#fbeee6" stroke="none" stroke-width="1" />
<circle cx="333.4" cy="255.3" r="23.2" fill="#f8e3d8" stroke="url(#rim2)" stroke-width="1.6"/>
<circle cx="334.0" cy="255.8" r="20.6" fill="none" stroke="#fbf0e8" stroke-width="0.8" opacity="0.7"/>
<rect x="309.2" y="279.9" width="49.3" height="49.3" fill="#f9ebe4" stroke="none" stroke-width="1" />
<circle cx="333.4" cy="304.8" r="23.2" fill="#f6ddd1" stroke="url(#rim3)" stroke-width="1.6"/>
<circle cx="334.0" cy="305.2" r="20.6" fill="none" stroke="#fbf0e8" stroke-width="0.8" opacity="0.7"/>
<circle cx="325" cy="187.5" r="0.8" fill="#9a5a44" opacity="0.8"/>
<circle cx="340.5" cy="194.5" r="0.8" fill="#9a5a44" opacity="0.8"/>
<circle cx="340.5" cy="198.2" r="0.8" fill="#9a5a44" opacity="0.8"/>
<circle cx="321" cy="211" r="0.8" fill="#9a5a44" opacity="0.8"/>
<circle cx="327" cy="215.5" r="0.8" fill="#9a5a44" opacity="0.8"/>
<circle cx="336" cy="205" r="0.8" fill="#9a5a44" opacity="0.8"/>
<circle cx="318" cy="289" r="0.65" fill="#a06058" opacity="0.6"/>
<circle cx="322" cy="290" r="0.65" fill="#a06058" opacity="0.6"/>
<circle cx="327" cy="293" r="0.65" fill="#a06058" opacity="0.6"/>
<circle cx="320" cy="298" r="0.65" fill="#a06058" opacity="0.6"/>
<circle cx="339" cy="300" r="0.65" fill="#a06058" opacity="0.6"/>
<circle cx="328" cy="306" r="0.65" fill="#a06058" opacity="0.6"/>
<circle cx="336" cy="310" r="0.65" fill="#a06058" opacity="0.6"/>
<circle cx="342" cy="295" r="0.65" fill="#a06058" opacity="0.6"/>
<circle cx="331" cy="318" r="0.65" fill="#a06058" opacity="0.6"/>
<circle cx="325" cy="314" r="0.65" fill="#a06058" opacity="0.6"/>
<circle cx="346" cy="308" r="0.65" fill="#a06058" opacity="0.6"/>
<rect x="309.3" y="181.0" width="49.2" height="148.2" fill="none" stroke="#222" stroke-width="1.4" />
<line x1="309.3" y1="230.2" x2="358.5" y2="230.2" stroke="#1a1a1a" stroke-width="1.8" />
<line x1="309.3" y1="279.9" x2="358.5" y2="279.9" stroke="#1a1a1a" stroke-width="1.8" />
<rect x="309.3" y="332.6" width="49.2" height="46.2" fill="#e3e2e8" stroke="#333" stroke-width="1.4" />
<defs><filter id="bl" x="-10%" y="-10%" width="120%" height="120%"><feGaussianBlur stdDeviation="0.85"/></filter><clipPath id="cc"><path d="M318,343 C323,336 337,334 346,338 C354,343 356,354 353,363 C350,372 339,376 327,374 C316,371 311,363 312,354 C312,349 314,346 318,343 Z"/></clipPath></defs>
<path d="M318,343 C323,336 337,334 346,338 C354,343 356,354 353,363 C350,372 339,376 327,374 C316,371 311,363 312,354 C312,349 314,346 318,343 Z" fill="#965e62" filter="url(#bl)"/>
<g clip-path="url(#cc)" filter="url(#bl)"><ellipse cx="331.1" cy="357.3" rx="4.7" ry="2.0" transform="rotate(91 331.1 357.3)" fill="#c09898" opacity="0.55"/><ellipse cx="320.4" cy="355.5" rx="3.7" ry="2.7" transform="rotate(17 320.4 355.5)" fill="#905858" opacity="0.55"/><ellipse cx="318.7" cy="356.5" rx="4.6" ry="2.4" transform="rotate(107 318.7 356.5)" fill="#6c3640" opacity="0.55"/><ellipse cx="351.6" cy="360.8" rx="3.7" ry="1.3" transform="rotate(3 351.6 360.8)" fill="#885258" opacity="0.55"/><ellipse cx="315.4" cy="343.2" rx="2.3" ry="1.1" transform="rotate(84 315.4 343.2)" fill="#c8a8aa" opacity="0.55"/><ellipse cx="336.6" cy="343.4" rx="2.3" ry="1.6" transform="rotate(1 336.6 343.4)" fill="#885258" opacity="0.55"/><ellipse cx="331.3" cy="346.6" rx="5.0" ry="3.2" transform="rotate(151 331.3 346.6)" fill="#905858" opacity="0.55"/><ellipse cx="325.6" cy="344.7" rx="2.5" ry="1.2" transform="rotate(138 325.6 344.7)" fill="#6c3640" opacity="0.55"/><ellipse cx="317.3" cy="347.1" rx="1.7" ry="1.0" transform="rotate(123 317.3 347.1)" fill="#c09898" opacity="0.55"/><ellipse cx="321.4" cy="370.6" rx="3.1" ry="3.2" transform="rotate(72 321.4 370.6)" fill="#885258" opacity="0.55"/><ellipse cx="335.6" cy="343.5" rx="3.9" ry="1.7" transform="rotate(56 335.6 343.5)" fill="#7c4048" opacity="0.55"/><ellipse cx="351.6" cy="364.8" rx="1.9" ry="1.5" transform="rotate(18 351.6 364.8)" fill="#7c4048" opacity="0.55"/><ellipse cx="331.6" cy="354.5" rx="3.9" ry="1.4" transform="rotate(92 331.6 354.5)" fill="#a87070" opacity="0.55"/><ellipse cx="329.8" cy="350.6" rx="2.9" ry="3.2" transform="rotate(0 329.8 350.6)" fill="#905858" opacity="0.55"/><ellipse cx="352.9" cy="336.7" rx="2.2" ry="3.2" transform="rotate(108 352.9 336.7)" fill="#885258" opacity="0.55"/><ellipse cx="314.7" cy="341.6" rx="3.0" ry="1.0" transform="rotate(110 314.7 341.6)" fill="#905858" opacity="0.55"/><ellipse cx="328.4" cy="338.8" rx="2.2" ry="2.4" transform="rotate(3 328.4 338.8)" fill="#b08080" opacity="0.55"/><ellipse cx="327.9" cy="353.2" rx="4.9" ry="2.1" transform="rotate(103 327.9 353.2)" fill="#6c3640" opacity="0.55"/><ellipse cx="320.3" cy="341.9" rx="4.7" ry="2.8" transform="rotate(45 320.3 341.9)" fill="#c09898" opacity="0.55"/><ellipse cx="319.3" cy="359.9" rx="3.4" ry="2.5" transform="rotate(70 319.3 359.9)" fill="#c8a8aa" opacity="0.55"/><ellipse cx="337.1" cy="352.0" rx="1.9" ry="1.1" transform="rotate(173 337.1 352.0)" fill="#c09898" opacity="0.55"/><ellipse cx="342.6" cy="350.9" rx="3.0" ry="3.0" transform="rotate(88 342.6 350.9)" fill="#a87070" opacity="0.55"/><ellipse cx="350.2" cy="373.1" rx="1.9" ry="2.1" transform="rotate(118 350.2 373.1)" fill="#885258" opacity="0.55"/><ellipse cx="324.2" cy="370.9" rx="2.2" ry="1.0" transform="rotate(48 324.2 370.9)" fill="#c8a8aa" opacity="0.55"/><ellipse cx="323.0" cy="337.8" rx="2.5" ry="2.2" transform="rotate(175 323.0 337.8)" fill="#885258" opacity="0.55"/><ellipse cx="327.5" cy="369.9" rx="4.9" ry="2.4" transform="rotate(124 327.5 369.9)" fill="#a87070" opacity="0.55"/><ellipse cx="336.6" cy="371.1" rx="3.2" ry="1.8" transform="rotate(56 336.6 371.1)" fill="#7c4048" opacity="0.55"/><ellipse cx="313.9" cy="360.2" rx="3.2" ry="2.6" transform="rotate(57 313.9 360.2)" fill="#885258" opacity="0.55"/><ellipse cx="316.0" cy="356.8" rx="4.1" ry="3.0" transform="rotate(133 316.0 356.8)" fill="#a87070" opacity="0.55"/><ellipse cx="344.7" cy="370.8" rx="2.7" ry="2.5" transform="rotate(162 344.7 370.8)" fill="#6c3640" opacity="0.55"/><ellipse cx="350.8" cy="337.2" rx="3.2" ry="1.0" transform="rotate(119 350.8 337.2)" fill="#6c3640" opacity="0.55"/><ellipse cx="336.3" cy="359.1" rx="1.8" ry="2.4" transform="rotate(179 336.3 359.1)" fill="#6c3640" opacity="0.55"/><ellipse cx="342.1" cy="350.8" rx="4.1" ry="2.3" transform="rotate(79 342.1 350.8)" fill="#885258" opacity="0.55"/><ellipse cx="333.7" cy="355.6" rx="2.6" ry="1.2" transform="rotate(4 333.7 355.6)" fill="#885258" opacity="0.55"/><ellipse cx="332.9" cy="359.4" rx="4.7" ry="1.6" transform="rotate(2 332.9 359.4)" fill="#905858" opacity="0.55"/><ellipse cx="318.7" cy="359.2" rx="3.3" ry="2.7" transform="rotate(62 318.7 359.2)" fill="#c8a8aa" opacity="0.55"/><ellipse cx="332.9" cy="345.2" rx="2.9" ry="1.6" transform="rotate(114 332.9 345.2)" fill="#c09898" opacity="0.55"/><ellipse cx="348.2" cy="350.6" rx="3.5" ry="1.7" transform="rotate(25 348.2 350.6)" fill="#c8a8aa" opacity="0.55"/><ellipse cx="327.0" cy="370.0" rx="1.6" ry="1.1" transform="rotate(176 327.0 370.0)" fill="#a87070" opacity="0.55"/><ellipse cx="317.5" cy="353.9" rx="4.7" ry="2.8" transform="rotate(69 317.5 353.9)" fill="#c8a8aa" opacity="0.55"/><ellipse cx="339.9" cy="363.2" rx="4.4" ry="2.4" transform="rotate(58 339.9 363.2)" fill="#7c4048" opacity="0.55"/><ellipse cx="324.1" cy="359.1" rx="3.9" ry="1.6" transform="rotate(64 324.1 359.1)" fill="#7c4048" opacity="0.55"/><ellipse cx="338.6" cy="351.4" rx="2.2" ry="2.7" transform="rotate(48 338.6 351.4)" fill="#a87070" opacity="0.55"/><ellipse cx="344.9" cy="373.4" rx="1.9" ry="1.2" transform="rotate(96 344.9 373.4)" fill="#b08080" opacity="0.55"/><ellipse cx="351.3" cy="362.0" rx="2.2" ry="2.0" transform="rotate(32 351.3 362.0)" fill="#7c4048" opacity="0.55"/><ellipse cx="343.2" cy="356.3" rx="1.6" ry="1.5" transform="rotate(140 343.2 356.3)" fill="#a87070" opacity="0.55"/></g>
<text x="374.4" y="183.3" font-size="11" text-anchor="start" font-weight="bold" fill="#111" >E</text>
<line x1="400.5" y1="232.2" x2="400.5" y2="341.8" stroke="#444" stroke-width="1" />
<line x1="400.5" y1="341.8" x2="498.3" y2="341.8" stroke="#444" stroke-width="1" />
<text x="395.0" y="344.1" font-size="7.8" text-anchor="end" font-weight="bold" fill="#1a1a1a" >0</text>
<text x="395.0" y="324.3" font-size="7.8" text-anchor="end" font-weight="bold" fill="#1a1a1a" >10</text>
<text x="395.0" y="304.5" font-size="7.8" text-anchor="end" font-weight="bold" fill="#1a1a1a" >20</text>
<text x="395.0" y="284.7" font-size="7.8" text-anchor="end" font-weight="bold" fill="#1a1a1a" >30</text>
<text x="395.0" y="264.9" font-size="7.8" text-anchor="end" font-weight="bold" fill="#1a1a1a" >40</text>
<text x="395.0" y="245.1" font-size="7.8" text-anchor="end" font-weight="bold" fill="#1a1a1a" >50</text>
<line x1="410.4" y1="249.7" x2="410.4" y2="262.6" stroke="#666" stroke-width="1" />
<line x1="407.4" y1="249.7" x2="413.4" y2="249.7" stroke="#666" stroke-width="1" />
<rect x="405.2" y="262.6" width="10.3" height="79.2" fill="#e0191e" stroke="#a11" stroke-width="0.7" />
<line x1="430.4" y1="266.6" x2="430.4" y2="274.5" stroke="#666" stroke-width="1" />
<line x1="427.4" y1="266.6" x2="433.4" y2="266.6" stroke="#666" stroke-width="1" />
<rect x="425.2" y="274.5" width="10.3" height="67.3" fill="#e0191e" stroke="#a11" stroke-width="0.7" />
<line x1="470.6" y1="264.6" x2="470.6" y2="272.5" stroke="#666" stroke-width="1" />
<line x1="467.6" y1="264.6" x2="473.6" y2="264.6" stroke="#666" stroke-width="1" />
<rect x="465.4" y="272.5" width="10.3" height="69.3" fill="#e0191e" stroke="#a11" stroke-width="0.7" />
<line x1="490.4" y1="254.7" x2="490.4" y2="262.6" stroke="#666" stroke-width="1" />
<line x1="487.4" y1="254.7" x2="493.4" y2="254.7" stroke="#666" stroke-width="1" />
<rect x="485.2" y="262.6" width="10.3" height="79.2" fill="#e0191e" stroke="#a11" stroke-width="0.7" />
<rect x="445.4" y="340.6" width="10.2" height="1.2" fill="#8a1a1a" stroke="none" stroke-width="1" />
<polyline points="408.2,238 408.2,218 454.6,218" fill="none" stroke="#888" stroke-width="0.9"/>
<polyline points="477,218 491.9,218 491.9,239.5" fill="none" stroke="#888" stroke-width="0.9"/>
<text x="465.8" y="221.2" font-size="7.8" text-anchor="middle" font-weight="normal" fill="#1a1a1a" >NS</text>
<polyline points="408.2,230.5 419,230.5" fill="none" stroke="#888" stroke-width="0.9"/>
<polyline points="440.1,230.5 450.2,230.5 450.2,339.5" fill="none" stroke="#888" stroke-width="0.9"/>
<circle cx="426.5" cy="228.5" r="1.05" fill="#222" stroke="none" stroke-width="1"/>
<circle cx="429.8" cy="228.5" r="1.05" fill="#222" stroke="none" stroke-width="1"/>
<circle cx="433.1" cy="228.5" r="1.05" fill="#222" stroke="none" stroke-width="1"/>
<text x="406.8" y="354.8" font-size="8.4" text-anchor="middle" font-weight="normal" fill="#1a1a1a" >Control</text>
<text x="431.6" y="354.8" font-size="8.0" text-anchor="middle" font-weight="normal" fill="#1a1a1a" >0.5</text>
<text x="451.0" y="354.8" font-size="8.0" text-anchor="middle" font-weight="normal" fill="#1a1a1a" >4.0</text>
<text x="472.3" y="354.8" font-size="8.0" text-anchor="middle" font-weight="normal" fill="#1a1a1a" >0.5</text>
<text x="491.3" y="354.8" font-size="8.0" text-anchor="middle" font-weight="normal" fill="#1a1a1a" >4.0</text>
<text x="499.0" y="354.8" font-size="8.0" text-anchor="start" font-weight="normal" fill="#1a1a1a" >(&#160;&#956;&#160;M)</text>
<line x1="422.0" y1="357.7" x2="457.9" y2="357.7" stroke="#333" stroke-width="0.9" />
<line x1="464.2" y1="357.7" x2="499.2" y2="357.7" stroke="#333" stroke-width="0.9" />
<text x="438.8" y="369.3" font-size="8.4" text-anchor="middle" font-weight="normal" fill="#1a1a1a" >2006-PO</text>
<text x="483.9" y="369.3" font-size="8.4" text-anchor="middle" font-weight="normal" fill="#1a1a1a" >2243-PO</text>
<text transform="translate(381,291.9) rotate(-90)" font-size="9.3" text-anchor="middle" fill="#222">BFU-E colonies</text>
</svg>
</body></html>
